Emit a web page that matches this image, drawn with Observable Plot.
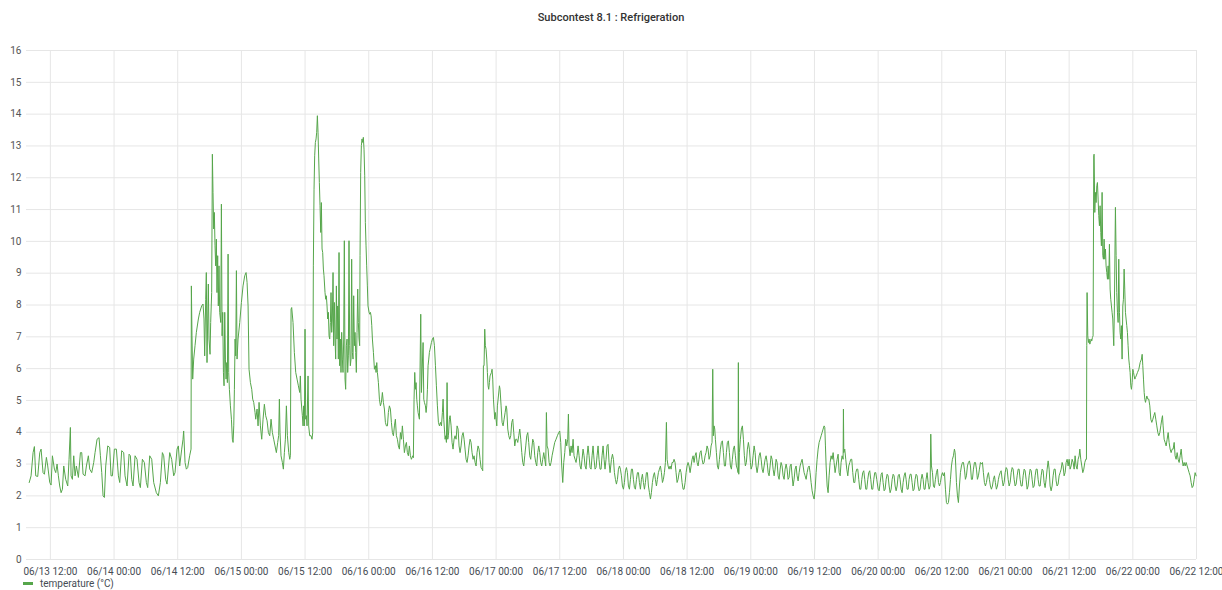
<!DOCTYPE html>
<html><head><meta charset="utf-8">
<script src="https://cdn.jsdelivr.net/npm/d3@7"></script>
<script src="https://cdn.jsdelivr.net/npm/@observablehq/plot@0.6"></script>
<style>
body{margin:0;background:#fff;font-family:Roboto,"Noto Sans",sans-serif;}
#wrap{position:relative;width:1222px;height:590px;}
#title{position:absolute;left:0;top:0;width:1222px;height:36px;line-height:36px;text-align:center;font-size:11px;font-weight:500;color:#333;}
#chart{position:absolute;left:0;top:36px;}
#legend{position:absolute;left:23px;top:577px;height:13px;line-height:13px;font-size:10px;color:#464c54;}
#legend .sw{display:inline-block;width:10px;height:3px;background:#56a64b;vertical-align:middle;margin-right:7px;position:relative;top:-1px;}
</style></head><body>
<div id="wrap">
<div id="title">Subcontest 8.1 : Refrigeration</div>
<div id="chart"></div>
<div id="legend"><span class="sw"></span>temperature (°C)</div>
</div>
<script>
// readings as (hour of day, °C) pairs, one array per day of June
const d13 = [8.01,2.42, 8.36,2.63, 8.74,3.36, 8.99,3.55, 9.24,2.63, 9.62,2.61, 10.0,3.36, 10.25,3.47, 10.62,2.73, 10.88,2.68, 11.25,3.21, 11.5,2.94, 11.88,2.42, 12.13,2.34, 12.38,3.26, 12.76,2.84, 13.01,2.73, 13.26,3.0, 13.51,2.63, 13.76,2.31, 14.02,2.1, 14.27,2.21, 14.52,2.94, 14.89,2.52, 15.27,2.31, 15.52,3.15, 15.77,4.15, 15.9,2.63, 16.15,2.52, 16.4,3.26, 16.65,2.63, 16.9,2.94, 17.28,2.58, 17.66,3.36, 17.91,3.36, 18.16,2.68, 18.54,2.63, 18.79,2.94, 19.16,3.26, 19.42,2.84, 19.79,2.73, 20.17,3.05, 20.42,3.36, 20.8,3.78, 21.17,3.83, 21.43,3.26, 21.68,2.73, 21.93,2.0, 22.18,1.95, 22.43,2.94, 22.81,3.57, 23.18,3.52, 23.43,2.63, 23.69,2.63];
const d14 = [0.06,3.47, 0.44,3.47, 0.82,2.63, 1.07,2.42, 1.44,3.42, 1.82,3.36, 2.07,2.63, 2.45,2.31, 2.83,3.31, 3.08,3.26, 3.33,2.52, 3.58,2.31, 3.96,3.26, 4.33,3.15, 4.71,2.42, 4.96,2.26, 5.34,3.15, 5.71,3.05, 6.09,2.42, 6.34,2.26, 6.72,3.26, 7.1,3.15, 7.47,2.42, 7.97,2.1, 8.35,2.0, 8.73,2.42, 9.11,3.36, 9.36,3.26, 9.73,2.52, 9.98,2.37, 10.49,3.36, 10.86,3.15, 11.24,2.63, 11.49,2.73, 11.87,3.47, 12.12,3.57, 12.37,2.94, 12.75,3.47, 13.0,3.78, 13.12,4.04, 13.38,3.05, 13.63,2.84, 13.88,2.89, 14.25,3.26, 14.51,3.47, 14.57,8.6, 14.69,7.03, 14.82,5.67, 15.01,6.3, 15.26,6.72, 15.51,7.14, 15.89,7.56, 16.14,7.77, 16.51,7.97, 16.77,8.03, 16.95,7.56, 17.08,6.4, 17.27,8.18, 17.39,9.02, 17.52,6.19, 17.65,7.56, 17.77,8.66, 17.9,6.93, 18.09,6.45, 18.21,7.45, 18.4,8.39, 18.53,12.74, 18.65,11.54, 18.78,10.39, 18.9,10.91, 19.03,9.86, 19.15,9.23, 19.28,10.07, 19.4,8.39, 19.53,9.55, 19.65,7.97, 19.78,9.23, 19.91,7.77, 20.11,7.45, 20.23,11.17, 20.36,7.03, 20.48,7.77, 20.61,5.88, 20.73,5.46, 20.86,7.77, 20.99,6.3, 21.11,5.67, 21.24,6.19, 21.36,5.56, 21.49,9.6, 21.61,5.88, 21.74,5.35, 21.93,4.83, 22.12,4.41, 22.3,3.78, 22.43,3.68, 22.56,4.2, 22.68,5.35, 22.81,6.93, 22.93,6.4, 23.06,9.08, 23.18,6.3, 23.37,6.93, 23.69,7.45];
const d15 = [0,8.08, 0.31,8.6, 0.63,8.92, 0.88,9.02, 1.07,8.71, 1.26,7.97, 1.44,5.98, 1.7,5.56, 1.95,5.35, 2.13,5.04, 2.32,4.94, 2.57,4.62, 2.7,4.41, 2.95,4.73, 3.14,4.2, 3.33,4.94, 3.58,4.2, 3.83,3.78, 4.08,4.41, 4.33,4.88, 4.58,4.52, 4.84,4.36, 5.09,3.99, 5.34,3.89, 5.59,4.41, 5.84,3.99, 6.09,3.78, 6.34,3.57, 6.59,3.36, 6.84,3.68, 7.03,3.9, 7.16,5.04, 7.28,3.99, 7.47,3.26, 7.72,3.05, 7.91,2.84, 8.1,3.36, 8.29,3.78, 8.48,4.83, 8.67,3.89, 8.92,3.36, 9.11,3.15, 9.23,3.26, 9.36,7.87, 9.48,7.92, 9.73,7.45, 9.98,6.51, 10.24,5.88, 10.49,5.67, 10.74,5.46, 10.99,5.25, 11.11,5.77, 11.24,5.04, 11.49,4.52, 11.62,4.2, 11.74,4.83, 11.87,4.2, 11.99,7.24, 12.12,4.41, 12.24,4.52, 12.37,4.2, 12.56,5.77, 12.68,4.2, 12.87,3.89, 13.12,3.89, 13.31,3.78, 13.44,3.99, 13.56,9.23, 13.69,11.64, 13.81,12.69, 13.94,13.11, 14.07,13.22, 14.19,13.43, 14.32,13.95, 14.44,13.43, 14.57,12.59, 14.69,11.85, 14.82,11.12, 14.95,10.28, 15.07,11.22, 15.2,9.76, 15.32,9.65, 15.45,9.13, 15.57,8.92, 15.76,8.39, 15.89,8.18, 16.01,8.29, 16.14,7.97, 16.26,7.56, 16.39,7.77, 16.52,7.03, 16.64,6.93, 16.77,7.45, 16.89,8.39, 17.02,7.14, 17.14,7.56, 17.27,9.02, 17.39,6.72, 17.52,8.08, 17.65,6.93, 17.77,6.3, 17.9,8.6, 18.02,6.93, 18.15,7.97, 18.27,6.3, 18.4,9.65, 18.52,6.09, 18.65,6.93, 18.77,5.88, 18.9,7.14, 19.03,6.3, 19.15,5.88, 19.28,6.93, 19.4,10.02, 19.53,5.67, 19.65,5.35, 19.78,6.72, 19.91,6.93, 20.03,5.88, 20.16,6.4, 20.28,10.02, 20.41,6.72, 20.53,6.09, 20.66,6.3, 20.78,9.44, 20.91,6.51, 21.04,6.3, 21.16,8.29, 21.29,6.72, 21.41,7.14, 21.54,6.51, 21.66,5.88, 21.79,7.14, 21.92,8.5, 22.04,7.45, 22.17,6.93, 22.29,6.72, 22.36,9.55, 22.48,12.17, 22.61,13.01, 22.73,13.22, 22.86,13.11, 22.98,13.27, 23.11,12.9, 23.24,12.06, 23.36,10.6, 23.49,9.86, 23.61,9.23, 23.74,8.6, 23.86,7.97];
const d16 = [0.06,7.77, 0.19,7.71, 0.31,7.77, 0.44,7.66, 0.57,7.35, 0.69,6.93, 0.88,6.51, 1.07,5.98, 1.26,6.09, 1.38,5.88, 1.51,6.19, 1.63,5.88, 1.82,5.56, 2.01,5.04, 2.2,4.83, 2.39,4.94, 2.57,5.25, 2.76,4.94, 2.95,4.73, 3.14,4.31, 3.33,4.2, 3.52,4.2, 3.7,4.62, 3.89,4.83, 4.08,4.73, 4.27,4.31, 4.46,3.99, 4.65,3.89, 4.84,4.2, 5.02,4.41, 5.21,3.89, 5.4,3.78, 5.59,3.57, 5.78,3.47, 5.97,3.99, 6.15,3.78, 6.34,4.2, 6.53,3.78, 6.72,3.36, 6.91,3.57, 7.1,3.68, 7.28,3.36, 7.47,3.26, 7.66,3.57, 7.85,3.26, 8.04,3.15, 8.16,3.2, 8.29,3.26, 8.41,3.2, 8.54,5.04, 8.67,5.88, 8.8,5.35, 8.92,5.56, 9.05,5.04, 9.17,4.83, 9.3,4.62, 9.55,4.41, 9.8,7.71, 9.93,5.25, 10.24,6.82, 10.37,5.04, 10.49,4.94, 10.68,4.83, 10.81,4.62, 10.93,4.83, 11.06,5.35, 11.18,6.09, 11.31,6.3, 11.43,6.51, 11.56,6.61, 11.81,6.82, 12.0,6.93, 12.19,6.98, 12.38,6.72, 12.57,6.09, 12.75,5.46, 12.94,4.83, 13.13,4.31, 13.32,4.2, 13.51,4.31, 13.7,4.2, 13.88,4.62, 14.01,5.04, 14.14,4.41, 14.26,4.1, 14.39,3.78, 14.51,3.89, 14.64,3.68, 14.76,5.56, 14.89,3.78, 15.01,3.89, 15.2,4.41, 15.33,4.52, 15.52,4.2, 15.7,3.68, 15.89,3.47, 16.08,3.78, 16.27,3.89, 16.46,3.78, 16.65,4.2, 16.84,4.1, 17.02,3.57, 17.21,3.36, 17.4,3.57, 17.59,3.89, 17.78,3.99, 17.97,3.78, 18.15,3.47, 18.34,3.15, 18.53,3.05, 18.72,3.26, 18.91,3.57, 19.1,3.78, 19.28,3.68, 19.47,3.36, 19.66,3.15, 19.85,3.26, 20.04,3.05, 20.23,2.94, 20.41,3.36, 20.6,3.57, 20.79,3.47, 20.98,3.15, 21.17,2.89, 21.36,2.84, 21.48,2.79, 21.61,6.09, 21.73,6.09, 21.86,7.24, 21.98,6.72, 22.11,6.61, 22.24,6.3, 22.36,5.88, 22.49,5.46, 22.61,5.35, 22.74,5.56, 22.86,5.77, 23.12,5.88, 23.24,5.98, 23.37,5.67, 23.5,5.04, 23.62,4.73, 23.75,4.41, 23.87,4.62];
const d17 = [0,4.41, 0.13,4.2, 0.25,4.83, 0.44,5.14, 0.63,5.46, 0.75,5.35, 0.94,4.83, 1.13,4.31, 1.32,4.2, 1.51,4.41, 1.7,4.62, 1.88,4.83, 2.01,4.73, 2.2,4.1, 2.39,3.89, 2.57,3.78, 2.76,3.89, 2.95,4.31, 3.14,4.41, 3.33,3.99, 3.52,3.57, 3.7,3.78, 3.89,3.78, 4.08,3.68, 4.27,3.89, 4.46,4.1, 4.65,3.78, 4.84,3.36, 5.02,3.05, 5.21,2.94, 5.4,3.26, 5.59,3.57, 5.78,3.89, 5.97,3.99, 6.15,3.68, 6.34,3.26, 6.53,3.15, 6.72,3.47, 6.91,3.78, 7.1,3.68, 7.28,3.26, 7.47,3.05, 7.66,2.94, 7.85,3.36, 8.04,3.57, 8.23,3.36, 8.41,3.05, 8.6,2.94, 8.79,3.15, 8.98,3.36, 9.17,3.15, 9.36,2.94, 9.48,4.62, 9.61,3.57, 9.8,3.47, 9.99,3.05, 10.17,2.94, 10.36,3.05, 10.55,3.26, 10.8,3.47, 11.05,3.68, 11.3,3.78, 11.55,3.89, 11.8,3.99, 11.99,4.04, 12.18,3.68, 12.37,2.94, 12.56,2.42, 12.75,3.05, 12.94,3.36, 13.12,3.78, 13.31,3.57, 13.5,3.78, 13.63,4.57, 13.75,3.57, 13.94,3.26, 14.13,3.57, 14.32,3.36, 14.51,3.78, 14.69,3.26, 14.88,3.15, 15.07,3.05, 15.26,3.26, 15.45,3.57, 15.64,3.26, 15.83,2.94, 16.01,2.84, 16.2,3.15, 16.39,3.47, 16.58,3.26, 16.77,2.94, 16.96,2.84, 17.14,3.26, 17.33,3.57, 17.52,3.26, 17.71,2.89, 17.9,2.84, 18.09,3.26, 18.27,3.57, 18.46,3.15, 18.65,2.84, 18.84,2.89, 19.03,3.26, 19.22,3.57, 19.4,3.15, 19.59,2.84, 19.78,2.84, 19.97,3.26, 20.16,3.57, 20.35,3.15, 20.53,2.84, 20.72,3.15, 20.91,3.57, 21.1,3.62, 21.29,3.05, 21.48,2.73, 21.74,3.15, 21.93,3.31, 22.12,3.15, 22.3,2.73, 22.49,2.52, 22.68,2.37, 22.87,2.52, 23.06,2.84, 23.25,2.94, 23.43,2.84, 23.62,2.63, 23.81,2.31];
const d18 = [0,2.21, 0.19,2.42, 0.38,2.79, 0.57,2.89, 0.75,2.73, 0.94,2.31, 1.13,2.21, 1.32,2.52, 1.51,2.84, 1.7,2.84, 1.88,2.52, 2.07,2.26, 2.26,2.21, 2.45,2.52, 2.64,2.73, 2.83,2.73, 3.01,2.42, 3.2,2.21, 3.39,2.52, 3.58,2.68, 3.77,2.42, 3.96,2.21, 4.14,2.42, 4.33,2.73, 4.52,2.73, 4.71,2.31, 4.9,2.1, 5.09,1.9, 5.27,2.1, 5.46,2.42, 5.65,2.63, 5.84,2.73, 6.03,2.52, 6.22,2.31, 6.4,2.52, 6.59,2.73, 6.78,2.84, 6.97,2.94, 7.16,2.73, 7.35,2.42, 7.53,2.52, 7.72,2.73, 7.91,3.05, 8.1,4.31, 8.23,3.15, 8.41,2.94, 8.6,2.84, 8.79,2.94, 8.98,2.84, 9.17,3.05, 9.36,3.05, 9.54,3.15, 9.73,3.05, 9.92,2.73, 10.11,2.42, 10.3,2.52, 10.49,2.73, 10.68,2.84, 10.86,2.73, 11.05,2.42, 11.24,2.21, 11.43,2.21, 11.62,2.42, 11.81,2.73, 11.99,2.94, 12.18,3.05, 12.37,2.94, 12.56,2.73, 12.75,2.94, 12.94,3.15, 13.13,3.26, 13.31,3.05, 13.5,3.26, 13.69,3.36, 13.88,3.05, 14.07,2.94, 14.25,3.15, 14.44,3.36, 14.63,3.42, 14.82,3.15, 15.01,3.0, 15.2,3.05, 15.39,3.26, 15.57,3.36, 15.76,3.57, 15.95,3.47, 16.14,3.15, 16.33,3.26, 16.52,3.57, 16.7,3.68, 16.83,5.98, 16.95,3.89, 17.08,4.2, 17.21,4.1, 17.33,3.78, 17.52,3.36, 17.71,2.94, 17.9,2.84, 18.09,3.15, 18.27,3.47, 18.46,3.68, 18.65,3.73, 18.84,3.36, 19.03,2.94, 19.22,2.94, 19.4,3.36, 19.59,3.68, 19.78,3.73, 19.97,3.36, 20.16,2.94, 20.35,2.84, 20.53,3.15, 20.72,3.47, 20.91,3.57, 21.1,3.26, 21.29,2.94, 21.48,2.84, 21.6,2.73, 21.66,6.19, 21.73,2.68, 21.85,3.36, 22.04,3.78, 22.23,4.1, 22.42,4.2, 22.61,3.78, 22.79,3.26, 22.98,2.94, 23.17,3.05, 23.36,3.47, 23.55,3.68, 23.74,3.47, 23.93,3.05];
const d19 = [0.06,2.84, 0.25,2.94, 0.44,3.26, 0.63,3.57, 0.82,3.36, 1.0,2.94, 1.19,2.73, 1.38,2.94, 1.57,3.26, 1.76,3.36, 1.95,3.15, 2.14,2.84, 2.32,2.73, 2.51,2.94, 2.7,3.15, 2.89,3.26, 3.08,3.05, 3.27,2.73, 3.45,2.63, 3.64,2.94, 3.83,3.26, 4.02,3.15, 4.21,2.84, 4.4,2.63, 4.58,2.84, 4.77,3.15, 4.96,3.05, 5.15,2.63, 5.34,2.52, 5.53,2.84, 5.71,3.05, 5.9,2.94, 6.09,2.63, 6.28,2.52, 6.47,2.84, 6.66,3.0, 6.84,2.84, 7.03,2.52, 7.22,2.58, 7.41,2.94, 7.6,3.0, 7.79,2.63, 7.97,2.31, 8.16,2.52, 8.35,2.84, 8.54,2.94, 8.73,2.63, 8.92,2.47, 9.11,2.73, 9.29,2.94, 9.48,3.05, 9.67,3.15, 9.86,2.94, 10.05,2.73, 10.24,2.63, 10.43,2.52, 10.62,2.73, 10.81,2.89, 11.0,2.94, 11.18,2.73, 11.37,2.42, 11.56,2.16, 11.75,2.0, 11.94,1.9, 12.13,2.21, 12.31,2.73, 12.5,3.15, 12.69,3.47, 12.88,3.68, 13.07,3.78, 13.26,3.89, 13.44,3.99, 13.63,4.1, 13.82,4.2, 13.95,4.15, 14.07,3.57, 14.2,2.94, 14.39,2.31, 14.57,2.1, 14.76,2.63, 14.95,3.05, 15.14,3.26, 15.33,3.15, 15.52,3.36, 15.7,3.05, 15.89,2.73, 16.08,2.94, 16.27,3.15, 16.46,3.31, 16.65,2.73, 16.84,2.63, 17.02,3.05, 17.21,3.26, 17.4,3.15, 17.46,4.73, 17.53,3.36, 17.71,3.47, 17.9,3.15, 18.09,2.84, 18.28,2.63, 18.47,2.94, 18.66,3.05, 18.84,3.15, 19.03,3.15, 19.22,2.73, 19.41,2.42, 19.6,2.42, 19.79,2.73, 19.97,2.84, 20.16,2.84, 20.35,2.52, 20.54,2.21, 20.73,2.21, 20.92,2.52, 21.1,2.73, 21.29,2.79, 21.48,2.52, 21.67,2.21, 21.86,2.21, 22.05,2.52, 22.23,2.73, 22.42,2.79, 22.61,2.52, 22.8,2.21, 22.99,2.21, 23.18,2.52, 23.36,2.73, 23.55,2.73, 23.74,2.52];
const d20 = [0,2.21, 0.19,2.16, 0.38,2.42, 0.57,2.68, 0.75,2.73, 0.94,2.42, 1.13,2.16, 1.32,2.21, 1.51,2.52, 1.7,2.68, 1.88,2.63, 2.07,2.31, 2.26,2.1, 2.45,2.21, 2.64,2.52, 2.83,2.68, 3.01,2.63, 3.2,2.31, 3.39,2.16, 3.58,2.31, 3.77,2.63, 3.96,2.68, 4.14,2.52, 4.33,2.21, 4.52,2.1, 4.71,2.42, 4.9,2.63, 5.09,2.73, 5.27,2.52, 5.46,2.21, 5.65,2.21, 5.84,2.52, 6.03,2.68, 6.22,2.68, 6.4,2.42, 6.59,2.16, 6.78,2.21, 6.97,2.52, 7.16,2.68, 7.35,2.63, 7.53,2.31, 7.72,2.16, 7.91,2.21, 8.1,2.52, 8.29,2.68, 8.48,2.52, 8.66,2.21, 8.85,2.21, 9.04,2.52, 9.23,2.73, 9.42,2.42, 9.61,2.21, 9.8,2.31, 9.92,3.94, 10.05,2.94, 10.24,2.73, 10.42,2.31, 10.61,2.26, 10.8,2.52, 10.99,2.73, 11.18,2.84, 11.37,2.42, 11.56,2.31, 11.74,2.42, 11.93,2.63, 12.12,2.73, 12.31,2.63, 12.5,2.73, 12.69,2.21, 12.87,1.79, 13.06,1.74, 13.25,1.79, 13.44,2.1, 13.63,2.52, 13.82,2.94, 14.0,3.15, 14.19,3.26, 14.38,3.47, 14.51,3.36, 14.63,2.94, 14.76,2.42, 14.95,2.0, 15.13,1.79, 15.32,2.31, 15.51,2.73, 15.7,2.94, 15.89,3.05, 16.08,3.05, 16.26,2.84, 16.45,2.52, 16.64,2.63, 16.83,2.94, 17.02,3.05, 17.21,3.1, 17.4,2.94, 17.58,2.52, 17.77,2.52, 17.96,2.84, 18.15,3.05, 18.34,3.05, 18.53,2.84, 18.71,2.52, 18.9,2.63, 19.09,2.84, 19.28,3.05, 19.47,3.0, 19.66,3.05, 19.84,2.73, 20.03,2.42, 20.22,2.31, 20.41,2.42, 20.6,2.63, 20.79,2.73, 20.97,2.52, 21.16,2.31, 21.35,2.21, 21.54,2.31, 21.73,2.52, 21.92,2.63, 22.1,2.42, 22.29,2.21, 22.48,2.31, 22.67,2.52, 22.81,2.63, 23.0,2.73, 23.18,2.79, 23.37,2.52, 23.56,2.31, 23.75,2.42, 23.94,2.73];
const d21 = [0.13,2.89, 0.31,2.84, 0.5,2.52, 0.69,2.31, 0.88,2.42, 1.07,2.73, 1.26,2.89, 1.44,2.84, 1.63,2.52, 1.82,2.31, 2.01,2.37, 2.2,2.63, 2.39,2.84, 2.57,2.84, 2.76,2.52, 2.95,2.31, 3.14,2.31, 3.33,2.63, 3.52,2.84, 3.7,2.79, 3.89,2.52, 4.08,2.21, 4.27,2.31, 4.46,2.63, 4.65,2.84, 4.84,2.79, 5.02,2.52, 5.21,2.26, 5.4,2.31, 5.59,2.63, 5.78,2.84, 5.97,2.84, 6.15,2.52, 6.34,2.31, 6.53,2.31, 6.72,2.63, 6.91,2.84, 7.1,2.79, 7.28,2.42, 7.47,2.26, 7.66,2.52, 7.85,2.84, 8.04,3.1, 8.23,2.84, 8.41,2.31, 8.6,2.16, 8.79,2.31, 8.98,2.63, 9.17,2.84, 9.36,2.84, 9.55,2.47, 9.73,2.31, 9.92,2.37, 10.11,2.63, 10.3,2.73, 10.49,2.84, 10.68,3.05, 10.86,2.94, 11.05,2.63, 11.24,2.73, 11.43,3.05, 11.62,3.15, 11.81,2.94, 11.99,3.15, 12.18,2.84, 12.37,2.94, 12.56,3.15, 12.75,3.05, 12.94,2.84, 13.12,3.26, 13.31,2.94, 13.5,2.84, 13.69,3.15, 13.88,3.26, 14.01,3.47, 14.19,3.15, 14.38,2.94, 14.57,2.73, 14.76,2.84, 14.95,3.05, 15.13,3.15, 15.26,3.15, 15.32,6.72, 15.38,8.39, 15.51,7.03, 15.64,6.82, 15.76,6.93, 15.89,6.77, 16.01,6.82, 16.14,6.93, 16.26,6.87, 16.39,6.98, 16.51,7.03, 16.64,12.69, 16.7,12.74, 16.83,10.91, 16.95,11.54, 17.08,11.22, 17.21,11.75, 17.33,11.85, 17.46,11.33, 17.58,10.81, 17.71,10.49, 17.83,11.12, 17.96,10.28, 18.08,9.86, 18.21,11.54, 18.34,9.55, 18.46,9.44, 18.59,10.07, 18.71,9.44, 18.84,9.76, 18.96,9.23, 19.09,9.02, 19.22,8.81, 19.34,9.23, 19.47,8.81, 19.59,9.91, 19.72,8.5, 19.84,8.18, 19.97,7.97, 20.09,7.77, 20.22,7.56, 20.35,6.93, 20.41,6.72, 20.53,7.97, 20.72,11.07, 20.85,9.55, 20.97,8.39, 21.1,7.77, 21.23,7.45, 21.35,9.44, 21.48,7.77, 21.6,7.14, 21.73,6.93, 21.85,7.35, 21.98,6.3, 22.11,7.97, 22.23,8.18, 22.36,9.13, 22.48,8.5, 22.61,7.77, 22.73,7.56, 22.86,7.35, 22.98,7.14, 23.11,6.72, 23.24,6.3, 23.37,6.09, 23.49,5.88, 23.62,5.46, 23.74,5.35, 23.87,5.56];
const d22 = [0,5.98, 0.13,5.88, 0.25,5.77, 0.38,5.67, 0.5,5.72, 0.63,5.77, 0.88,5.88, 1.13,5.98, 1.38,6.19, 1.63,6.3, 1.76,6.45, 1.88,6.09, 2.01,5.67, 2.14,5.25, 2.26,5.04, 2.39,4.94, 2.51,5.04, 2.64,5.14, 2.83,5.04, 3.01,5.04, 3.2,4.83, 3.39,4.41, 3.58,4.31, 3.77,4.41, 3.96,4.52, 4.14,4.62, 4.33,4.41, 4.52,4.2, 4.71,3.99, 4.9,3.89, 5.09,3.99, 5.27,4.2, 5.46,4.41, 5.59,4.52, 5.71,4.2, 5.9,3.78, 6.09,3.68, 6.28,3.57, 6.47,3.78, 6.66,3.99, 6.84,3.68, 7.03,3.47, 7.22,3.36, 7.41,3.47, 7.6,3.47, 7.79,3.68, 7.97,3.26, 8.16,3.15, 8.35,3.36, 8.54,3.15, 8.73,3.05, 8.92,3.26, 9.11,3.47, 9.29,3.15, 9.48,2.94, 9.67,3.05, 9.86,2.94, 10.05,3.05, 10.24,2.94, 10.42,2.84, 10.61,2.73, 10.8,2.63, 10.99,2.42, 11.18,2.26, 11.37,2.31, 11.56,2.52, 11.74,2.73, 11.93,2.63];

const days = [[13,d13],[14,d14],[15,d15],[16,d16],[17,d17],[18,d18],[19,d19],[20,d20],[21,d21],[22,d22]];
const yTicks = d3.range(0, 17);
const xStart = new Date(Date.UTC(2020, 5, 13, 7, 30));
const xEnd = new Date(Date.UTC(2020, 5, 22, 12, 0));
const xTicks = d3.utcHour.every(12).range(xStart, new Date(+xEnd + 1));

const rows = [];
for (const [day, arr] of days) {
  for (let i = 0; i < arr.length; i += 2) {
    rows.push({time: new Date(Date.UTC(2020, 5, day) + arr[i] * 3600e3), temp: arr[i + 1]});
  }
}

const chart = Plot.plot({
  width: 1222, height: 541,
  marginLeft: 26, marginRight: 26, marginTop: 14, marginBottom: 18,
  style: {fontFamily: "Roboto, sans-serif", fontSize: "10px", color: "#555", background: "#fff"},
  x: {type: "utc", domain: [xStart, xEnd], label: null},
  y: {domain: [0, 16], label: null},
  marks: [
    Plot.gridY(yTicks, {stroke: "#e6e6e6", strokeOpacity: 1}),
    Plot.gridX(xTicks, {stroke: "#e6e6e6", strokeOpacity: 1}),
    Plot.axisY(yTicks, {tickSize: 0, tickPadding: 5, fill: "#555"}),
    Plot.axisX(xTicks, {tickSize: 0, tickPadding: 8, tickFormat: d3.utcFormat("%m/%d %H:%M"), fill: "#464c54"}),
    Plot.line(rows, {x: "time", y: "temp", stroke: "#56a64b", strokeWidth: 1})
  ]
});
document.getElementById("chart").appendChild(chart);
</script>
</body></html>
